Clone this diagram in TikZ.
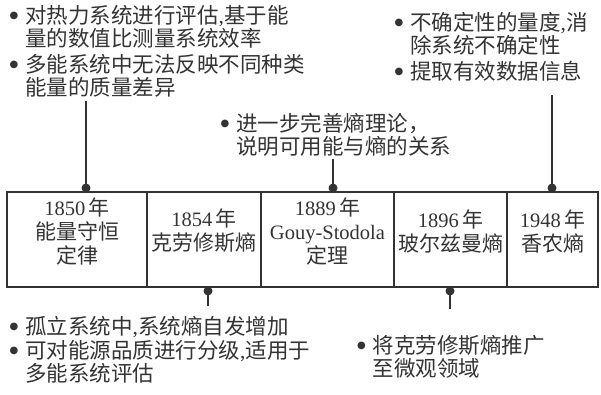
\documentclass[tikz,border=0pt]{standalone}
\usepackage{fontspec}
\setmainfont{Noto Sans CJK SC}
\newfontfamily\tnr{Liberation Serif}
\newfontfamily\dv{DejaVu Sans}
\definecolor{ink}{HTML}{333333}
\newcommand{\bu}{\makebox[16pt][l]{\hspace{0.5pt}\raisebox{4.5pt}{\dv\fontsize{10}{10}\selectfont ●}}}
\newcommand{\ind}{\hspace*{16pt}}
\newcommand{\lat}[1]{{\tnr\fontsize{20.5}{24}\selectfont #1}}
\tikzset{
  cell/.style={draw=ink, line width=1.8pt, minimum height=95pt, inner sep=0pt},
  label/.style={align=center, inner sep=0pt, font=\fontsize{21}{24}\selectfont, text=ink},
  note/.style={anchor=north west, align=left, inner sep=0pt,
    font=\fontsize{21.5}{23.5}\selectfont, text=ink},
  link/.style={draw=ink, line width=1.3pt},
  dot/.style={circle, fill=ink, inner sep=0pt, minimum size=9pt},
}
\begin{document}
\begin{tikzpicture}[x=1pt,y=-1pt]
\useasboundingbox (0,0) rectangle (601,394);
% cells
\node[cell, minimum width=140pt] (c1) at (77,239.5) {};
\node[cell, minimum width=114pt] (c2) at (204,239.5) {};
\node[cell, minimum width=133pt] (c3) at (327.5,239.5) {};
\node[cell, minimum width=113pt] (c4) at (450.5,239.5) {};
\node[cell, minimum width=91pt] (c5) at (552.5,239.5) {};
\node[label] (l1) at (77,232) {\lat{1850}\,年\\能量守恒\\定律};
\node[label] (l2) at (204,231) {\lat{1854}\,年\\克劳修斯熵};
\node[label] (l3) at (327.5,232) {\lat{1889}\,年\\\lat{Gouy-Stodola}\\定理};
\node[label] (l4) at (450.5,231) {\lat{1896}\,年\\玻尔兹曼熵};
\node[label] (l5) at (552.5,231) {\lat{1948}\,年\\香农熵};
% dots
\node[dot] (d1) at (86,188) {};
\node[dot] (d3) at (333,188) {};
\node[dot] (d5) at (552,188) {};
\node[dot] (d2) at (208,291) {};
\node[dot] (d4) at (450,291) {};
\coordinate (e1) at (86,101);
\coordinate (e3) at (333,159);
\coordinate (e5) at (552,95);
\coordinate (e2) at (208,306);
\coordinate (e4) at (450,309);
\draw[link] (d1.center) -- (e1);
\draw[link] (d3.center) -- (e3);
\draw[link] (d5.center) -- (e5);
\draw[link] (d2.center) -- (e2);
\draw[link] (d4.center) -- (e4);
% notes
\node[note] (n1a) at (9,5) {\bu 对热力系统进行评估{\tnr ,}基于能\\\ind 量的数值比测量系统效率};
\node[note] (n1b) at (9,54) {\bu 多能系统中无法反映不同种类\\\ind 能量的质量差异};
\node[note] (n5a) at (394,12) {\bu 不确定性的量度{\tnr ,}消\\\ind 除系统不确定性};
\node[note] (n5b) at (394,61) {\bu 提取有效数据信息};
\node[note] (n3) at (220,113) {\bu 进一步完善熵理论，\\\ind 说明可用能与熵的关系};
\node[note] (n2a) at (9,316) {\bu 孤立系统中{\tnr ,}系统熵自发增加};
\node[note] (n2b) at (9,340) {\bu 可对能源品质进行分级{\tnr ,}适用于\\\ind 多能系统评估};
\node[note] (n4) at (356.5,335) {\bu 将克劳修斯熵推广\\\ind 至微观领域};
\end{tikzpicture}
\end{document}
